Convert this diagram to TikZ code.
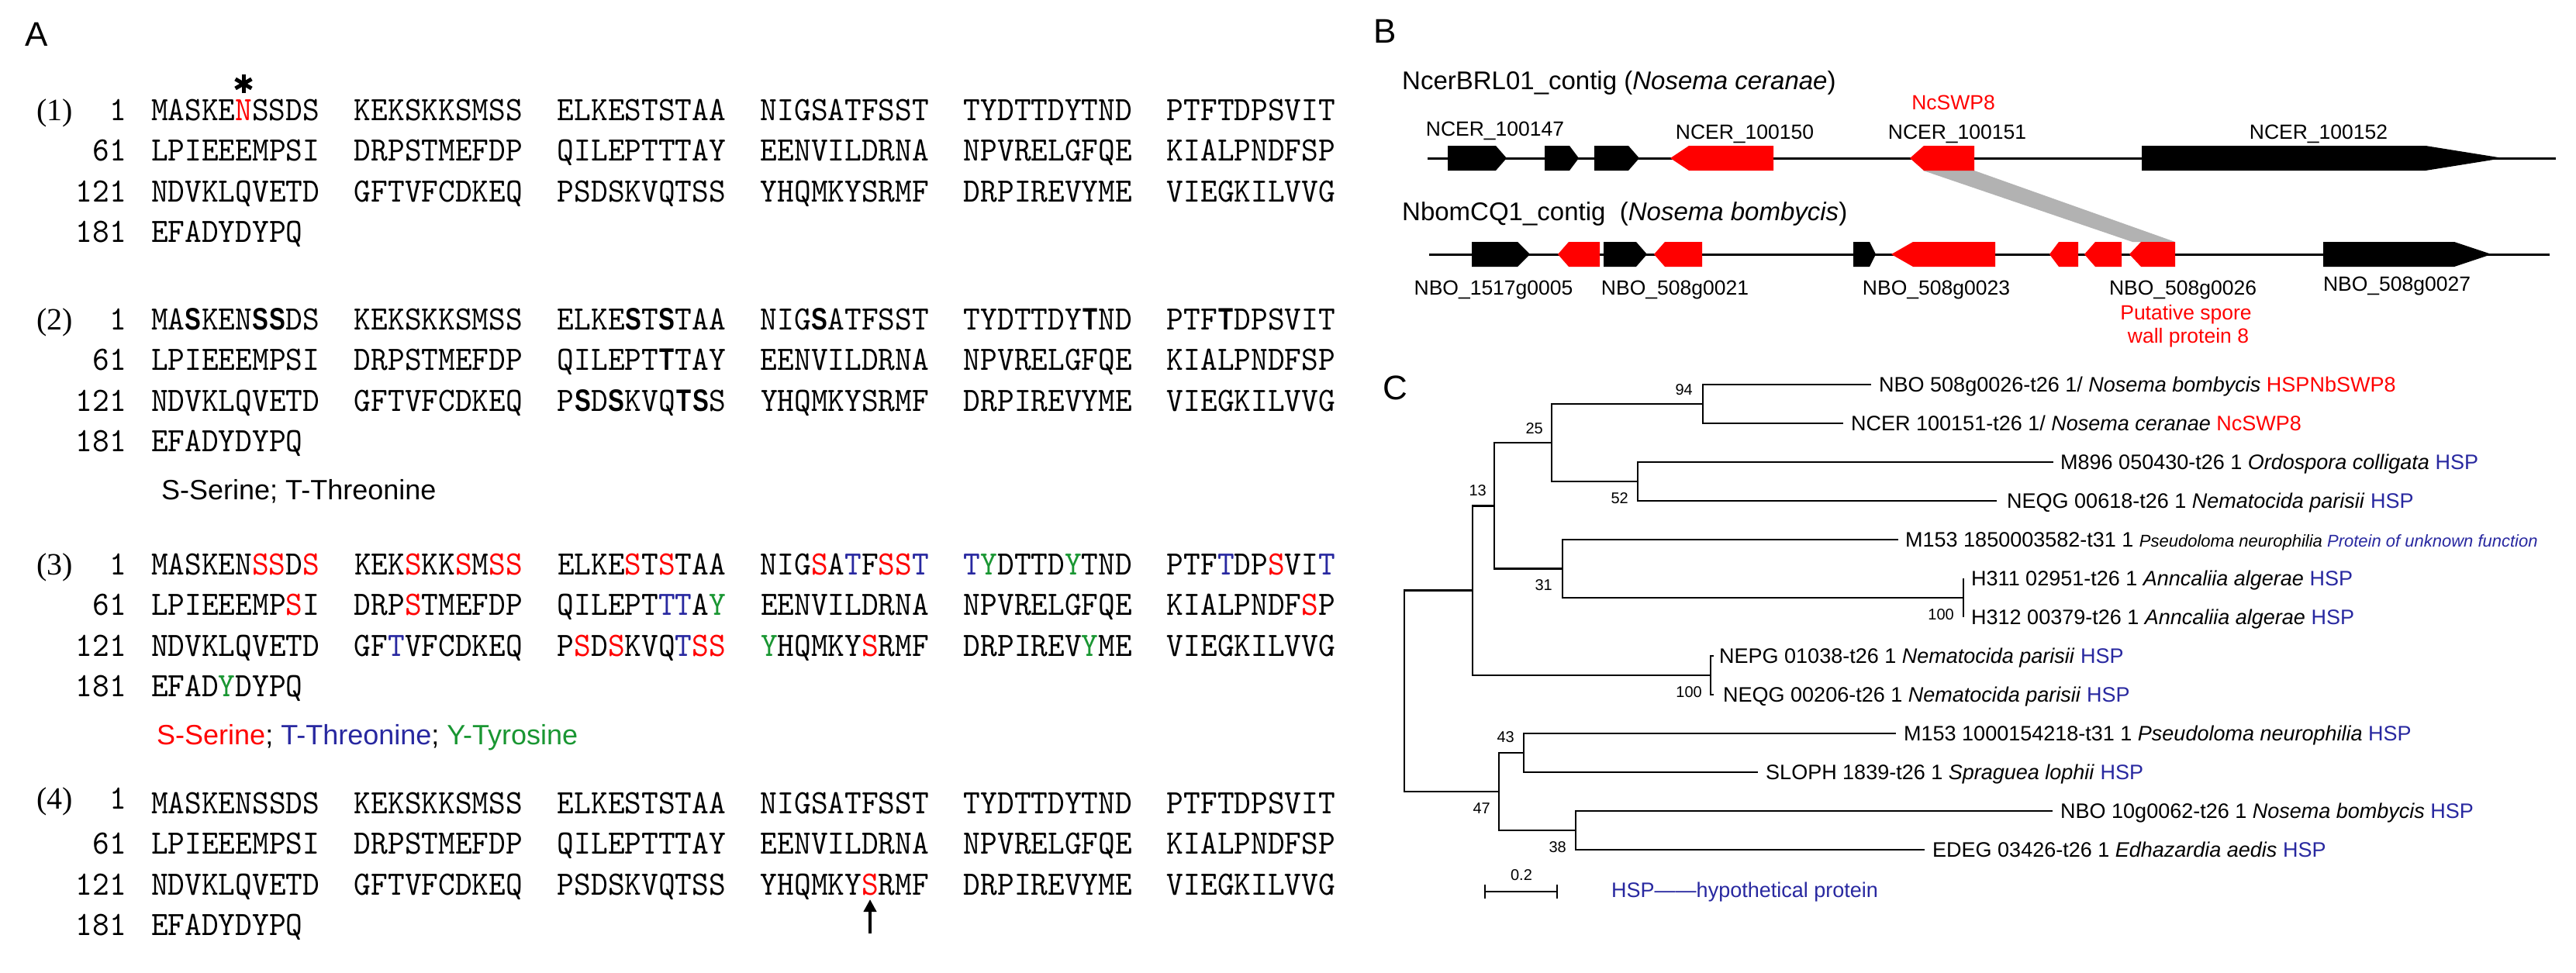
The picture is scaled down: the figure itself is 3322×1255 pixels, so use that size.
\documentclass[tikz,border=0pt]{standalone}
\usepackage{fontspec}
\setmainfont{Liberation Sans}
\newfontfamily\seqfont{lmmono10-regular.otf}[FakeStretch=0.94]
\newfontfamily\boldsans{Liberation Sans}[FakeStretch=0.78]
\newfontfamily\serifnum{Liberation Serif}
\usetikzlibrary{arrows.meta}
\definecolor{sred}{RGB}{255,0,0}
\definecolor{hblue}{RGB}{40,40,160}
\definecolor{sgreen}{RGB}{25,150,50}
\definecolor{bandgray}{RGB}{178,178,178}
\newcommand\sR[1]{\textcolor{sred}{#1}}
\newcommand\sT[1]{\textcolor{hblue}{#1}}
\newcommand\sY[1]{\textcolor{sgreen}{#1}}
\newcommand\sBd[1]{\makebox[21.71pt][c]{\boldsans\bfseries\fontsize{40}{40}\selectfont #1}}
\newcommand\blk[1]{\makebox[262pt][l]{#1}}
\newcommand\seqrow[4]{%
  \node[num] (#1n) at (163,#2) {#3};
  \node[seq] (#1s) at (195,#2) {#4};}
\newcommand\geneR[5]{\fill[#5] (#1,#4-16) -- (#2-#3,#4-16) -- (#2,#4) -- (#2-#3,#4+16) -- (#1,#4+16) -- cycle;}
\newcommand\geneL[5]{\fill[#5] (#2,#4-16) -- (#1+#3,#4-16) -- (#1,#4) -- (#1+#3,#4+16) -- (#2,#4+16) -- cycle;}
\begin{document}
\begin{tikzpicture}[x=1pt,y=-1pt,
  seq/.style={font=\seqfont\fontsize{44}{44}\selectfont, inner sep=0pt, outer sep=0pt, text height=26.9pt, text depth=0pt, anchor=west},
  num/.style={seq, anchor=east},
  glab/.style={font=\serifnum\fontsize{40}{40}\selectfont, inner sep=0pt, text height=27pt, text depth=0pt, anchor=west},
  leg/.style={font=\fontsize{36}{40}\selectfont, inner sep=0pt, text height=25.8pt, text depth=0pt, anchor=west},
  panel/.style={font=\fontsize{44}{48}\selectfont, inner sep=0pt, text height=31.5pt, text depth=0pt, anchor=west},
  ttl/.style={font=\fontsize{33}{36}\selectfont, inner sep=0pt, text height=23.6pt, text depth=0pt, anchor=west},
  glbl/.style={font=\fontsize{26.5}{30}\selectfont, inner sep=0pt, text height=19pt, text depth=0pt, anchor=center},
  lbl/.style={font=\fontsize{27}{30}\selectfont, inner sep=0pt, text height=19.3pt, text depth=0pt, anchor=west},
  boot/.style={font=\fontsize{20}{22}\selectfont, inner sep=0pt, text height=14.3pt, text depth=0pt, anchor=east},
  branch/.style={line width=2.6pt},
  contig/.style={line width=3pt}
]
\fill[white] (0,0) rectangle (3322,1255);
\useasboundingbox (0,0) rectangle (3322,1255);

% ---------------- Panel A ----------------
\node[panel] (pA) at (32,44) {A};

% asterisk above N
\foreach \a in {90,30,150}
  \draw[line width=5pt] (314,108) ++(\a:12) -- ++(\a+180:24);

% (1)
\node[glab] (lab1) at (47,142) {(1)};
\seqrow{ra}{142}{1}{\blk{MASKE\sR{N}SSDS}\blk{KEKSKKSMSS}\blk{ELKESTSTAA}\blk{NIGSATFSST}\blk{TYDTTDYTND}PTFTDPSVIT}
\seqrow{rb}{194.5}{61}{\blk{LPIEEEMPSI}\blk{DRPSTMEFDP}\blk{QILEPTTTAY}\blk{EENVILDRNA}\blk{NPVRELGFQE}KIALPNDFSP}
\seqrow{rc}{247}{121}{\blk{NDVKLQVETD}\blk{GFTVFCDKEQ}\blk{PSDSKVQTSS}\blk{YHQMKYSRMF}\blk{DRPIREVYME}VIEGKILVVG}
\seqrow{rd}{299.5}{181}{EFADYDYPQ}

% (2)
\node[glab] (lab2) at (47,412) {(2)};
\seqrow{sa}{412}{1}{\blk{MA\sBd{S}KEN\sBd{S}\sBd{S}DS}\blk{KEKSKKSMSS}\blk{ELKE\sBd{S}T\sBd{S}TAA}\blk{NIG\sBd{S}ATFSST}\blk{TYDTTDY\sBd{T}ND}PTF\sBd{T}DPSVIT}
\seqrow{sb}{464.5}{61}{\blk{LPIEEEMPSI}\blk{DRPSTMEFDP}\blk{QILEPT\sBd{T}TAY}\blk{EENVILDRNA}\blk{NPVRELGFQE}KIALPNDFSP}
\seqrow{sc}{517}{121}{\blk{NDVKLQVETD}\blk{GFTVFCDKEQ}\blk{P\sBd{S}D\sBd{S}KVQ\sBd{T}\sBd{S}S}\blk{YHQMKYSRMF}\blk{DRPIREVYME}VIEGKILVVG}
\seqrow{sd}{569.5}{181}{EFADYDYPQ}
\node[leg] (leg2) at (208,632) {S-Serine; T-Threonine};

% (3)
\node[glab] (lab3) at (47,728) {(3)};
\seqrow{ta}{728}{1}{\blk{MASKEN\sR{SS}D\sR{S}}\blk{KEK\sR{S}KK\sR{S}M\sR{SS}}\blk{ELKE\sR{S}T\sR{S}TAA}\blk{NIG\sR{S}A\sT{T}F\sR{SS}\sT{T}}\blk{\sT{T}\sY{Y}DTTD\sY{Y}TND}PTF\sT{T}DP\sR{S}VI\sT{T}}
\seqrow{tb}{780.5}{61}{\blk{LPIEEEMP\sR{S}I}\blk{DRP\sR{S}TMEFDP}\blk{QILEPT\sT{TT}A\sY{Y}}\blk{EENVILDRNA}\blk{NPVRELGFQE}KIALPNDF\sR{S}P}
\seqrow{tc}{833}{121}{\blk{NDVKLQVETD}\blk{GF\sT{T}VFCDKEQ}\blk{P\sR{S}D\sR{S}KVQ\sT{T}\sR{SS}}\blk{\sY{Y}HQMKY\sR{S}RMF}\blk{DRPIREV\sY{Y}ME}VIEGKILVVG}
\seqrow{td}{885.5}{181}{EFAD\sY{Y}DYPQ}
\node[leg] (leg3) at (202,948) {\textcolor{sred}{S-Serine}; \textcolor{hblue}{T-Threonine}; \textcolor{sgreen}{Y-Tyrosine}};

% (4)
\node[glab] (lab4) at (47,1030) {(4)};
\node[num] (ua0) at (163,1030) {1};
\node[seq] (uas) at (195,1036) {\blk{MASKENSSDS}\blk{KEKSKKSMSS}\blk{ELKESTSTAA}\blk{NIGSATFSST}\blk{TYDTTDYTND}PTFTDPSVIT};
\seqrow{ub}{1088.5}{61}{\blk{LPIEEEMPSI}\blk{DRPSTMEFDP}\blk{QILEPTTTAY}\blk{EENVILDRNA}\blk{NPVRELGFQE}KIALPNDFSP}
\seqrow{uc}{1141}{121}{\blk{NDVKLQVETD}\blk{GFTVFCDKEQ}\blk{PSDSKVQTSS}\blk{YHQMKY\sR{S}RMF}\blk{DRPIREVYME}VIEGKILVVG}
\seqrow{ud}{1193.5}{181}{EFADYDYPQ}
\coordinate (arrtail) at (1122,1204);
\coordinate (arrtip) at (1122,1160);
\draw[line width=4pt, -{Triangle[length=16pt,width=16pt]}] (arrtail) -- (arrtip);

% ---------------- Panel B ----------------
\node[panel] (pB) at (1771,40) {B};
\node[ttl] (t1) at (1808,104) {NcerBRL01\_contig (\textit{Nosema ceranae})};
\node[ttl] (t2) at (1808,273) {NbomCQ1\_contig\ \ (\textit{Nosema bombycis})};

% homology band
\fill[bandgray] (2480,220) -- (2546,220) -- (2805,312) -- (2750,312) -- cycle;

\draw[contig] (1841,204) -- (3296,204);
\draw[contig] (1843,328) -- (3288,328);

\geneR{1867}{1943}{14}{204}{black}
\geneR{1992}{2036}{12}{204}{black}
\geneR{2056}{2114}{14}{204}{black}
\geneL{2154}{2287}{24}{204}{sred}
\geneL{2463}{2546}{18}{204}{sred}
\geneR{2762}{3228}{100}{204}{black}

\geneR{1898}{1973}{16}{328}{black}
\geneL{2009}{2063}{14}{328}{sred}
\geneR{2068}{2124}{14}{328}{black}
\geneL{2133}{2195}{14}{328}{sred}
\geneR{2390}{2419}{8}{328}{black}
\geneL{2439}{2573}{28}{328}{sred}
\geneL{2643}{2680}{12}{328}{sred}
\geneL{2688}{2736}{14}{328}{sred}
\geneL{2746}{2805}{15}{328}{sred}
\geneR{2996}{3213}{48}{328}{black}

\node[glbl] (g147) at (1928,166) {NCER\_100147};
\node[glbl] (g150) at (2250,170) {NCER\_100150};
\node[glbl, text=sred] (gnc) at (2519,132) {NcSWP8};
\node[glbl] (g151) at (2524,170) {NCER\_100151};
\node[glbl] (g152) at (2990,170) {NCER\_100152};
\node[glbl] (h05) at (1926,371) {NBO\_1517g0005};
\node[glbl] (h21) at (2160,371) {NBO\_508g0021};
\node[glbl] (h23) at (2497,371) {NBO\_508g0023};
\node[glbl] (h26) at (2815,371) {NBO\_508g0026};
\node[glbl, text=sred] (hp1) at (2819,403) {Putative spore};
\node[glbl, text=sred] (hp2) at (2822,433) {wall protein 8};
\node[glbl] (h27) at (3091,366) {NBO\_508g0027};

% ---------------- Panel C ----------------
\node[panel] (pC) at (1783,500) {C};

\coordinate (t1) at (2413,496);
\coordinate (t2) at (2377,546);
\coordinate (t3) at (2648,596);
\coordinate (t4) at (2575,646);
\coordinate (t5) at (2448,696);
\coordinate (t6) at (2532,746);
\coordinate (t7) at (2532,796);
\coordinate (t8) at (2210,846);
\coordinate (t9) at (2210,896);
\coordinate (t10) at (2445,946);
\coordinate (t11) at (2267,996);
\coordinate (t12) at (2647,1046);
\coordinate (t13) at (2482,1096);

\coordinate (n94) at (2196,521);
\coordinate (n52) at (2112,621);
\coordinate (n25) at (2001,571);
\coordinate (nH) at (2532,771);
\coordinate (n31) at (2015,733.5);
\coordinate (n13) at (1927,652.25);
\coordinate (nN) at (2206,871);
\coordinate (nX) at (1899,761.6);
\coordinate (n43) at (1965,971);
\coordinate (n38) at (2032,1071);
\coordinate (n47) at (1933,1021);
\coordinate (root) at (1811,891.3);

\foreach \p/\c in {n94/t1,n94/t2,n52/t3,n52/t4,n25/n94,n25/n52,nH/t6,nH/t7,n31/t5,n31/nH,
  n13/n25,n13/n31,nN/t8,nN/t9,nX/n13,nX/nN,n43/t10,n43/t11,n38/t12,n38/t13,n47/n43,n47/n38,root/nX,root/n47}
  \draw[branch] (\p) |- (\c);

\node[lbl] (L1) at (2423,496) {NBO 508g0026-t26 1/ \textit{Nosema bombycis} \textcolor{sred}{HSPNbSWP8}};
\node[lbl] (L2) at (2387,546) {NCER 100151-t26 1/ \textit{Nosema ceranae} \textcolor{sred}{NcSWP8}};
\node[lbl] (L3) at (2657,596) {M896 050430-t26 1 \textit{Ordospora colligata} \textcolor{hblue}{HSP}};
\node[lbl] (L4) at (2588,646) {NEQG 00618-t26 1 \textit{Nematocida parisii} \textcolor{hblue}{HSP}};
\node[lbl] (L5) at (2457,696) {M153 1850003582-t31 1 {\fontsize{22}{24}\selectfont\textit{Pseudoloma neurophilia} \textcolor{hblue}{\textit{Protein of unknown function}}}};
\node[lbl] (L6) at (2542,746) {H311 02951-t26 1 \textit{Anncaliia algerae} \textcolor{hblue}{HSP}};
\node[lbl] (L7) at (2542,796) {H312 00379-t26 1 \textit{Anncaliia algerae} \textcolor{hblue}{HSP}};
\node[lbl] (L8) at (2217,846) {NEPG 01038-t26 1 \textit{Nematocida parisii} \textcolor{hblue}{HSP}};
\node[lbl] (L9) at (2222,896) {NEQG 00206-t26 1 \textit{Nematocida parisii} \textcolor{hblue}{HSP}};
\node[lbl] (L10) at (2455,946) {M153 1000154218-t31 1 \textit{Pseudoloma neurophilia} \textcolor{hblue}{HSP}};
\node[lbl] (L11) at (2277,996) {SLOPH 1839-t26 1 \textit{Spraguea lophii} \textcolor{hblue}{HSP}};
\node[lbl] (L12) at (2657,1046) {NBO 10g0062-t26 1 \textit{Nosema bombycis} \textcolor{hblue}{HSP}};
\node[lbl] (L13) at (2492,1096) {EDEG 03426-t26 1 \textit{Edhazardia aedis} \textcolor{hblue}{HSP}};

\node[boot] (b94) at (2183,502) {94};
\node[boot] (b25) at (1990,552) {25};
\node[boot] (b13) at (1917,632) {13};
\node[boot] (b52) at (2100,642) {52};
\node[boot] (b31) at (2002,754) {31};
\node[boot] (b100a) at (2520,792) {100};
\node[boot] (b100b) at (2195,892) {100};
\node[boot] (b43) at (1953,950) {43};
\node[boot] (b47) at (1922,1042) {47};
\node[boot] (b38) at (2020,1092) {38};

\coordinate (sb1) at (1915,1150);
\coordinate (sb2) at (2008,1150);
\draw[branch] (sb1) -- (sb2);
\draw[branch] (sb1) ++(0,-9) -- ++(0,18);
\draw[branch] (sb2) ++(0,-9) -- ++(0,18);
\node[boot, anchor=center] (sbl) at (1962,1128) {0.2};
\node[lbl, text=hblue] (hsp) at (2078,1148) {HSP——hypothetical protein};
\end{tikzpicture}
\end{document}
